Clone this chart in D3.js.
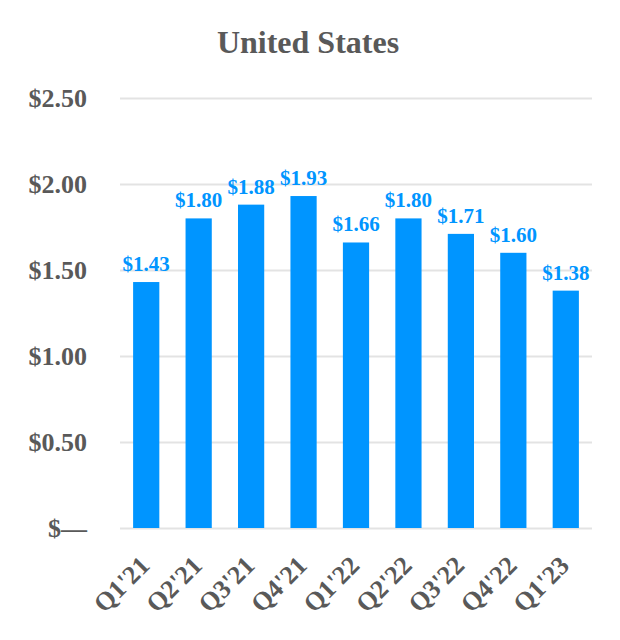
<!DOCTYPE html>
<html><head><meta charset="utf-8">
<script src="https://cdn.jsdelivr.net/npm/d3@7"></script>
<style>body{margin:0;background:#fff}</style>
</head><body><svg id="c" width="620" height="640"></svg>
<script>
const categories = ["Q1'21","Q2'21","Q3'21","Q4'21","Q1'22","Q2'22","Q3'22","Q4'22","Q1'23"];
const values = [1.43,1.80,1.88,1.93,1.66,1.80,1.71,1.60,1.38];
const tickValues = [0,0.5,1.0,1.5,2.0,2.5];
const tickLabels = ["$—","$0.50","$1.00","$1.50","$2.00","$2.50"];
const title = "United States";

const svg = d3.select("#c");
const font = "'Liberation Serif','Times New Roman',serif";
const gray = "#595959", blue = "#0095FF";
const x = d3.scaleBand().domain(categories).range([120,592]).paddingInner(0.5).paddingOuter(0.25);
const y = d3.scaleLinear().domain([0,2.5]).range([528,98]);

svg.append("text").attr("x",308).attr("y",53).attr("text-anchor","middle")
  .attr("font-family",font).attr("font-weight","bold").attr("font-size",32).attr("fill",gray).text(title);

const ya = svg.append("g").attr("transform","translate(120,0)")
  .call(d3.axisLeft(y).tickValues(tickValues).tickSize(-472).tickPadding(33)
    .tickFormat((d,i)=>tickLabels[i]));
ya.select(".domain").remove();
ya.selectAll(".tick line").attr("stroke","#e3e3e3").attr("stroke-width",2);
ya.selectAll(".tick text").attr("font-family",font).attr("font-weight","bold").attr("font-size",26).attr("fill",gray).attr("dy","0.33em");

svg.append("g").selectAll("rect").data(values).join("rect")
  .attr("x",(d,i)=>x(categories[i])).attr("width",x.bandwidth())
  .attr("y",d=>y(d)).attr("height",d=>y(0)-y(d)).attr("fill",blue);

svg.append("g").selectAll("text").data(values).join("text")
  .attr("x",(d,i)=>x(categories[i])+x.bandwidth()/2).attr("y",d=>y(d)-11)
  .attr("text-anchor","middle").attr("font-family",font).attr("font-weight","bold")
  .attr("font-size",21).attr("fill",blue).text(d=>"$"+d.toFixed(2));

const xa = svg.append("g").attr("transform","translate(0,528)")
  .call(d3.axisBottom(x).tickSize(0).tickPadding(0));
xa.select(".domain").remove();
xa.selectAll(".tick text").attr("font-family",font).attr("font-weight","bold").attr("font-size",26).attr("fill",gray)
  .attr("text-anchor","end").attr("dy",0).attr("transform","translate(5,39) rotate(-45)");
</script></body></html>
